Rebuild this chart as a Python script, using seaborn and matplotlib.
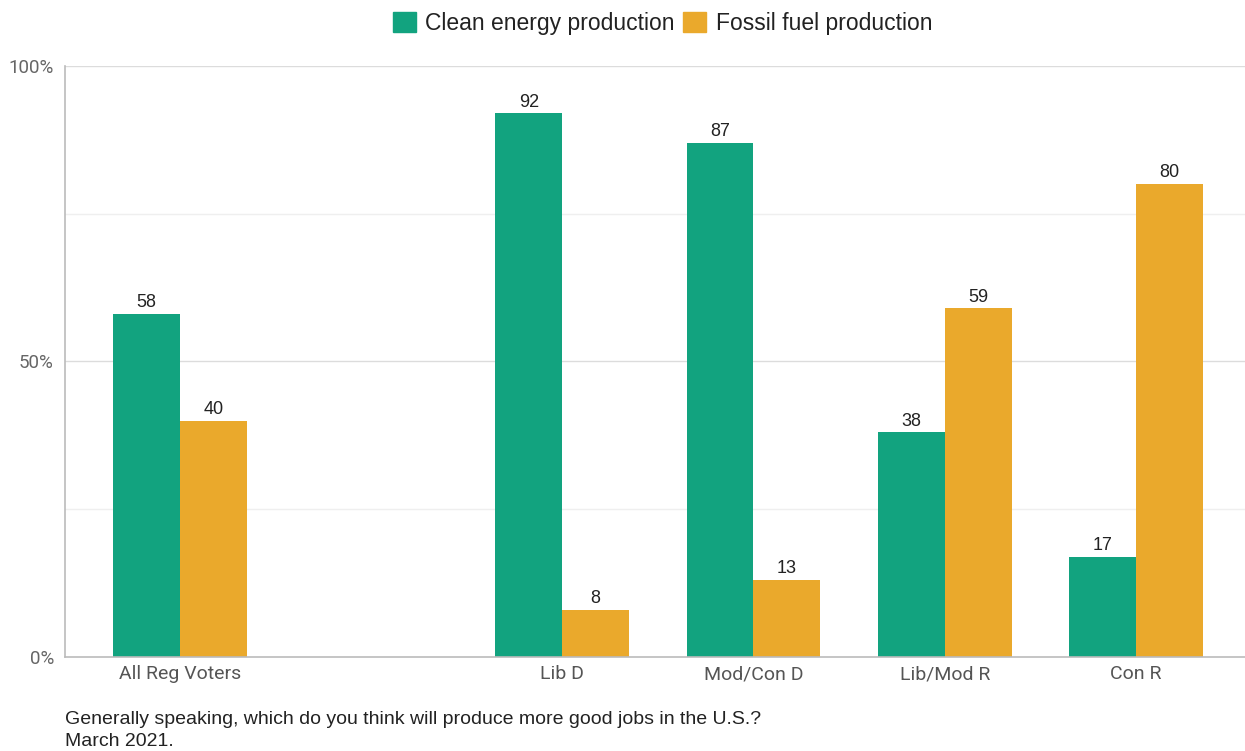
import matplotlib
matplotlib.use("Agg")
import matplotlib.pyplot as plt
import seaborn as sns
import pandas as pd

categories = ["All Reg Voters", "", "Lib D", "Mod/Con D", "Lib/Mod R", "Con R"]
data_categories = ["All Reg Voters", "Lib D", "Mod/Con D", "Lib/Mod R", "Con R"]
clean_energy = [58, 92, 87, 38, 17]
fossil_fuel = [40, 8, 13, 59, 80]
series_names = ["Clean energy production", "Fossil fuel production"]
colors = ["#12A37F", "#EAA92C"]
caption = "Generally speaking, which do you think will produce more good jobs in the U.S.?\nMarch 2021."

df = pd.DataFrame({
    "group": data_categories * 2,
    "series": [series_names[0]] * len(data_categories) + [series_names[1]] * len(data_categories),
    "value": clean_energy + fossil_fuel,
})

sns.set_theme(style="white")
plt.rcParams["font.family"] = ["Liberation Sans", "DejaVu Sans"]

fig = plt.figure(figsize=(12.45, 7.51), dpi=100)
ax = fig.add_axes([0.0522, 0.1252, 0.9478, 0.7869])

sns.barplot(data=df, x="group", y="value", hue="series", order=categories,
            hue_order=series_names, palette=colors, width=0.7, gap=0,
            saturation=1, ax=ax, legend=False, errorbar=None, linewidth=0)

for cont in ax.containers:
    ax.bar_label(cont, fmt="%d", padding=2, fontsize=13, color="#222222")

ax.set_ylim(0, 100)
ax.set_xlim(-0.6, 5.57)
ax.set_yticks([0, 50, 100])
ax.set_yticklabels(["0%", "50%", "100%"], fontsize=13.5, color="#666666",
                   family=["Roboto", "DejaVu Sans"])
for y in [25, 75]:
    ax.axhline(y, color="#efefef", lw=1, zorder=0)
for y in [50, 100]:
    ax.axhline(y, color="#dcdcdc", lw=1, zorder=0)
ax.set_axisbelow(True)
ax.tick_params(axis="x", labelsize=14, colors="#555555", length=0, pad=6)
ax.tick_params(axis="y", length=0, pad=8)
for lbl in ax.get_xticklabels():
    lbl.set_family(["Roboto", "DejaVu Sans"])
ax.set_xlabel("")
ax.set_ylabel("")
for s in ["top", "right"]:
    ax.spines[s].set_visible(False)
for s in ["left", "bottom"]:
    ax.spines[s].set_color("#bbbbbb")
    ax.spines[s].set_linewidth(1.2)

handles = [plt.Rectangle((0, 0), 1, 1, color=c) for c in colors]
fig.legend(handles, series_names, loc="center", bbox_to_anchor=(0.532, 0.969),
           ncol=2, frameon=False, fontsize=16.5, handlelength=1.0, handleheight=1.0,
           handletextpad=0.4, columnspacing=0.4, labelcolor="#222222")

fig.text(0.0522, 0.053, caption, fontsize=14, color="#222222", va="top",
         ha="left", linespacing=1.4)

fig.savefig("out.png", dpi=100)
